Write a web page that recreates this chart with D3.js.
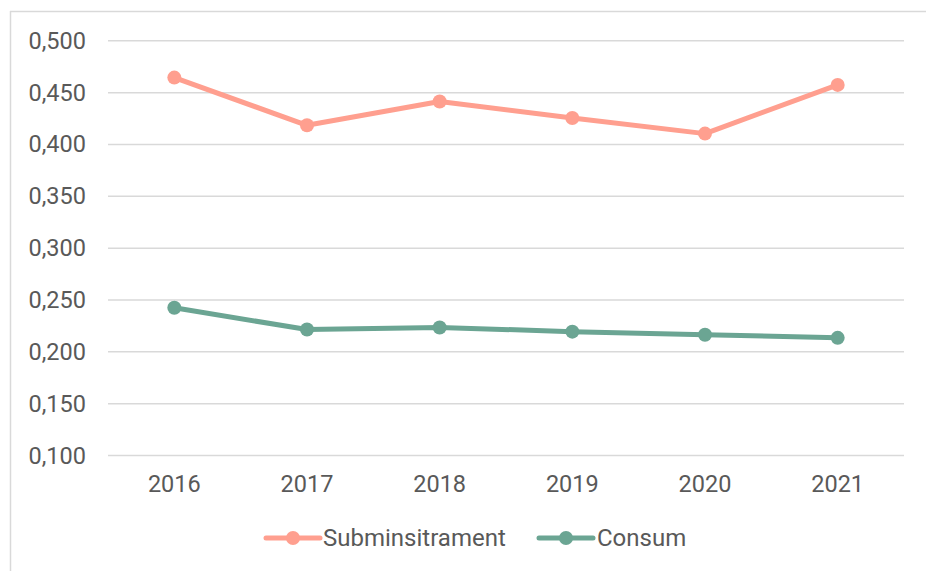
<!DOCTYPE html>
<html><head><meta charset="utf-8">
<script src="https://cdn.jsdelivr.net/npm/d3@7"></script>
<style>
html,body{margin:0;padding:0;background:#fff;}
text{font-family:Roboto,"Noto Sans",sans-serif;fill:#595959;}
</style></head>
<body><svg id="c" width="926" height="571"></svg>
<script>
const years = ["2016","2017","2018","2019","2020","2021"];
const subministrament = [0.464, 0.418, 0.441, 0.425, 0.410, 0.457];
const consum = [0.242, 0.221, 0.223, 0.219, 0.216, 0.213];
const yTicks = [0.100,0.150,0.200,0.250,0.300,0.350,0.400,0.450,0.500];
const seriesNames = ["Subminsitrament","Consum"];
const seriesColors = ["#FF9F8F","#6BA593"];

const svg = d3.select("#c");
// frame
svg.append("line").attr("x1",10.5).attr("x2",10.5).attr("y1",11).attr("y2",571).attr("stroke","#d9d9d9").attr("stroke-width",1.5);
svg.append("line").attr("x1",10).attr("x2",926).attr("y1",11.5).attr("y2",11.5).attr("stroke","#d9d9d9").attr("stroke-width",1.5);

const L=108, R=904, T=40.3, B=455;
const x = d3.scaleBand().domain(years).range([L,R]);
const y = d3.scaleLinear().domain([0.1,0.5]).range([B,T]);
const fmt = v => d3.format(".3f")(v).replace(".",",");

const gy = svg.append("g").attr("transform",`translate(${L},0)`)
  .call(d3.axisLeft(y).tickValues(yTicks).tickSize(-(R-L)).tickPadding(22).tickFormat(fmt));
gy.select(".domain").remove();
gy.selectAll(".tick line").attr("stroke","#d9d9d9").attr("stroke-width",1.5);
gy.selectAll(".tick text").attr("font-size",23.5).attr("fill","#595959").attr("dy","0.34em");

const gx = svg.append("g").attr("transform",`translate(0,${B})`)
  .call(d3.axisBottom(x).tickSize(0).tickPadding(20));
gx.select(".domain").remove();
gx.selectAll(".tick text").attr("font-size",23.5).attr("fill","#595959").attr("dy","0.71em");

const data = [subministrament, consum];
const line = d3.line().x((d,i)=>x(years[i])+x.bandwidth()/2).y(d=>y(d));
data.forEach((s,k)=>{
  svg.append("path").datum(s).attr("d",line).attr("fill","none")
    .attr("stroke",seriesColors[k]).attr("stroke-width",5).attr("stroke-linejoin","round");
  svg.selectAll(null).data(s).enter().append("circle")
    .attr("cx",(d,i)=>x(years[i])+x.bandwidth()/2).attr("cy",d=>y(d)).attr("r",7)
    .attr("fill",seriesColors[k]);
});

// legend
const legY = 538;
const leg = [{x0:266, tx:323},{x0:539, tx:597}];
seriesNames.forEach((n,k)=>{
  const g = svg.append("g");
  g.append("line").attr("x1",leg[k].x0).attr("x2",leg[k].x0+54).attr("y1",legY).attr("y2",legY)
    .attr("stroke",seriesColors[k]).attr("stroke-width",5).attr("stroke-linecap","round");
  g.append("circle").attr("cx",leg[k].x0+27).attr("cy",legY).attr("r",7).attr("fill",seriesColors[k]);
  g.append("text").attr("x",leg[k].tx).attr("y",legY).attr("dy","0.35em").attr("font-size",24).text(n);
});
</script></body></html>
